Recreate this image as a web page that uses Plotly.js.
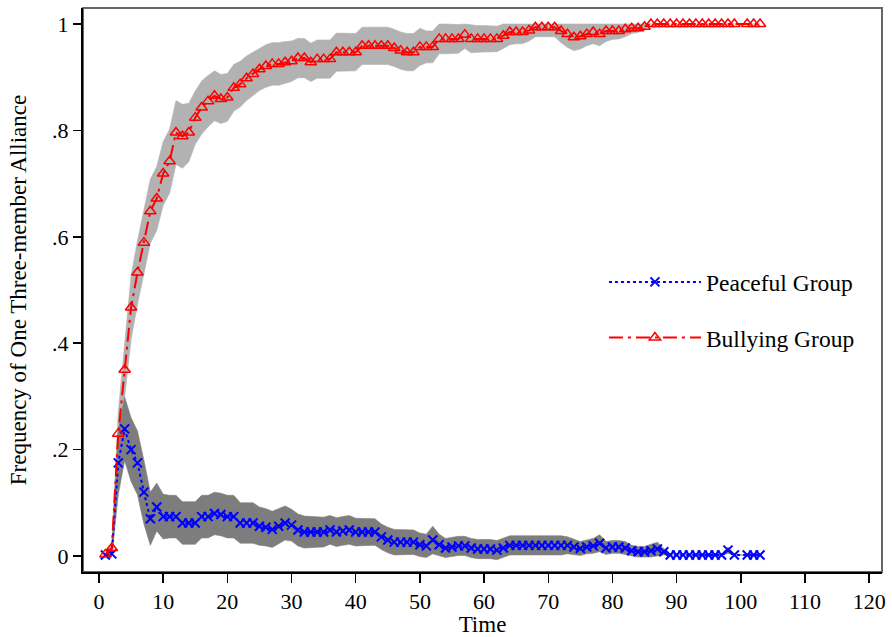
<!DOCTYPE html>
<html><head><meta charset="utf-8">
<script src="https://cdn.plot.ly/plotly-3.0.1.min.js"></script>
<style>html,body{margin:0;padding:0;background:#fff}#chart{width:892px;height:637px}</style>
</head><body><div id="chart"></div>
<script>
const time = [1,2,3,4,5,6,7,8,9,10,11,12,13,14,15,16,17,18,19,20,21,22,23,24,25,26,27,28,29,30,
31,32,33,34,35,36,37,38,39,40,41,42,43,44,45,46,47,48,49,50,51,52,53,54,55,56,57,58,59,60,
61,62,63,64,65,66,67,68,69,70,71,72,73,74,75,76,77,78,79,80,81,82,83,84,85,86,87,88,89,90,
91,92,93,94,95,96,97,98,99,100,101,102,103];

const bullying = [0.003,0.015,0.23,0.35,0.467,0.533,0.589,0.648,0.672,0.719,
0.742,0.796,0.789,0.796,0.824,0.843,0.855,0.865,0.859,0.862,
0.88,0.887,0.898,0.906,0.915,0.921,0.925,0.925,0.928,0.93,
0.936,0.936,0.928,0.934,0.934,0.934,0.947,0.947,0.947,0.947,
0.959,0.959,0.959,0.959,0.959,0.955,0.95,0.947,0.947,0.957,
0.957,0.957,0.972,0.972,0.972,0.972,0.98,0.972,0.972,0.972,
0.972,0.972,0.978,0.985,0.985,0.985,0.988,0.994,0.994,0.994,
0.994,0.987,0.981,0.975,0.977,0.981,0.985,0.981,0.987,0.987,
0.987,0.99,0.992,0.992,0.995,1,1,1,1,1,
1,1,1,1,1,1,1,1,1,null,1,1,1];

const bullyingHalfWidth = [0.004,0.01,0.04,0.05,0.06,0.06,0.06,0.06,0.06,0.06,
0.06,0.06,0.06,0.055,0.05,0.05,0.048,0.047,0.046,0.045,
0.044,0.043,0.042,0.041,0.04,0.04,0.04,0.04,0.039,0.038,
0.037,0.037,0.036,0.036,0.036,0.036,0.036,0.036,0.035,0.035,
0.035,0.035,0.035,0.035,0.035,0.035,0.035,0.035,0.035,0.035,
0.03,0.03,0.028,0.028,0.027,0.027,0.026,0.026,0.025,0.025,
0.024,0.024,0.024,0.024,0.022,0.022,0.02,0.018,0.018,0.018,
0.018,0.022,0.025,0.025,0.024,0.022,0.022,0.022,0.02,0.016,
0.015,0.014,0.01,0.008,0.005,0,0,0,0,0,
0,0,0,0,0,0,0,0,0,0,0,0,0];

const peaceful = [0.002,0.004,0.175,0.239,0.2,0.175,0.12,0.07,0.092,0.074,
0.074,0.074,0.062,0.062,0.062,0.074,0.074,0.08,0.078,0.074,
0.074,0.062,0.062,0.062,0.056,0.054,0.05,0.056,0.062,0.058,
0.049,0.045,0.045,0.045,0.045,0.049,0.045,0.047,0.049,0.045,
0.045,0.045,0.045,0.036,0.03,0.026,0.026,0.026,0.026,0.021,
0.019,0.03,0.021,0.015,0.017,0.019,0.019,0.015,0.013,0.013,
0.013,0.011,0.015,0.02,0.02,0.02,0.02,0.02,0.02,0.02,
0.02,0.02,0.02,0.017,0.014,0.017,0.019,0.024,0.015,0.017,
0.017,0.015,0.01,0.008,0.008,0.01,0.013,0.008,0.002,0.002,
0.002,0.002,0.002,0.002,0.002,0.002,0.002,0.011,0.002,null,0.002,0.002,0.002];

const peacefulHalfWidth = [0.003,0.005,0.06,0.06,0.06,0.06,0.06,0.05,0.045,0.042,
0.04,0.04,0.04,0.04,0.04,0.04,0.04,0.04,0.04,0.04,
0.04,0.038,0.038,0.038,0.036,0.035,0.034,0.033,0.032,0.03,
0.03,0.03,0.029,0.028,0.028,0.027,0.027,0.027,0.027,0.026,
0.026,0.026,0.025,0.024,0.024,0.024,0.024,0.023,0.023,0.022,
0.022,0.026,0.02,0.018,0.018,0.018,0.018,0.018,0.018,0.018,
0.018,0.018,0.018,0.018,0.018,0.018,0.018,0.018,0.018,0.018,
0.018,0.018,0.016,0.014,0.013,0.013,0.014,0.016,0.012,0.012,
0.012,0.012,0.01,0.01,0.01,0.012,0.013,0.006,0,0,
0,0,0,0,0,0,0,0.006,0,0,0,0,0];

const seriesNames = ['Peaceful Group', 'Bullying Group'];
const xTickVals = [0,10,20,30,40,50,60,70,80,90,100,110,120];
const yTickVals = [0,0.2,0.4,0.6,0.8,1];
const yTickText = ['0','.2','.4','.6','.8','1'];
const xTitle = 'Time';
const yTitle = 'Frequency of One Three-member Alliance';

function bandTraces(vals, hw, color) {
  const up = vals.map((v,i) => v == null ? null : Math.min(1, v + hw[i]));
  const lo = vals.map((v,i) => v == null ? null : v - hw[i]);
  return [
    {x: time, y: up, type: 'scatter', mode: 'lines', line: {width: 0.6, color: color},
     connectgaps: true, showlegend: false, hoverinfo: 'skip'},
    {x: time, y: lo, type: 'scatter', mode: 'lines', line: {width: 0.6, color: color},
     fill: 'tonexty', fillcolor: color, connectgaps: true, showlegend: false, hoverinfo: 'skip'}
  ];
}

const traces = [
  ...bandTraces(bullying, bullyingHalfWidth, 'rgb(178,178,178)'),
  ...bandTraces(peaceful, peacefulHalfWidth, 'rgb(125,125,125)'),
  {x: time, y: peaceful, name: seriesNames[0], type: 'scatter', mode: 'lines+markers',
   connectgaps: true, legendgroup: 'p',
   line: {color: 'rgb(0,0,255)', width: 2, dash: 'dot'},
   marker: {symbol: 'x-thin-open', size: 9, color: 'rgb(0,0,255)', line: {width: 2, color: 'rgb(0,0,255)'}}},
  {x: time, y: bullying, name: seriesNames[1], type: 'scatter', mode: 'lines+markers',
   connectgaps: true, legendgroup: 'b',
   line: {color: 'rgb(255,0,0)', width: 2, dash: '14px,5px,3px,5px'},
   marker: {symbol: 'triangle-up-open', size: 10, color: 'rgb(255,0,0)', line: {width: 1.5, color: 'rgb(255,0,0)'}}}
];

const font = 'Liberation Serif, Times New Roman, serif';
const layout = {
  width: 892, height: 637,
  margin: {l: 83, r: 10, t: 8, b: 65},
  paper_bgcolor: '#fff', plot_bgcolor: '#fff',
  font: {family: font, color: '#000', size: 22},
  showlegend: true,
  legend: {x: 0.652, y: 0.553, xanchor: 'left', yanchor: 'top', bgcolor: 'rgba(0,0,0,0)',
    font: {family: font, size: 23.5, color: '#000'}, tracegroupgap: 22, itemwidth: 92},
  xaxis: {range: [-2.49, 122.0], tickvals: xTickVals, ticks: 'outside', ticklen: 9, tickwidth: 1.5,
    tickcolor: '#000', showgrid: false, zeroline: false, showline: true, linecolor: '#000', linewidth: 2,
    tickfont: {family: font, size: 22}, title: {text: xTitle, font: {family: font, size: 23}, standoff: 0}},
  yaxis: {range: [-0.0301, 1.0301], tickvals: yTickVals, ticktext: yTickText, ticks: 'outside', ticklen: 8,
    tickwidth: 1.5, tickcolor: '#000', showgrid: false, zeroline: false, showline: true, linecolor: '#000',
    linewidth: 2, tickfont: {family: font, size: 22},
    title: {text: yTitle, font: {family: font, size: 23}, standoff: 19}},
  shapes: [{type: 'rect', xref: 'paper', yref: 'paper', x0: 0, x1: 1, y0: 0, y1: 1,
    line: {color: '#666', width: 2}, layer: 'below'}]
};

Plotly.newPlot('chart', traces, layout, {displayModeBar: false, staticPlot: true});
</script></body></html>
